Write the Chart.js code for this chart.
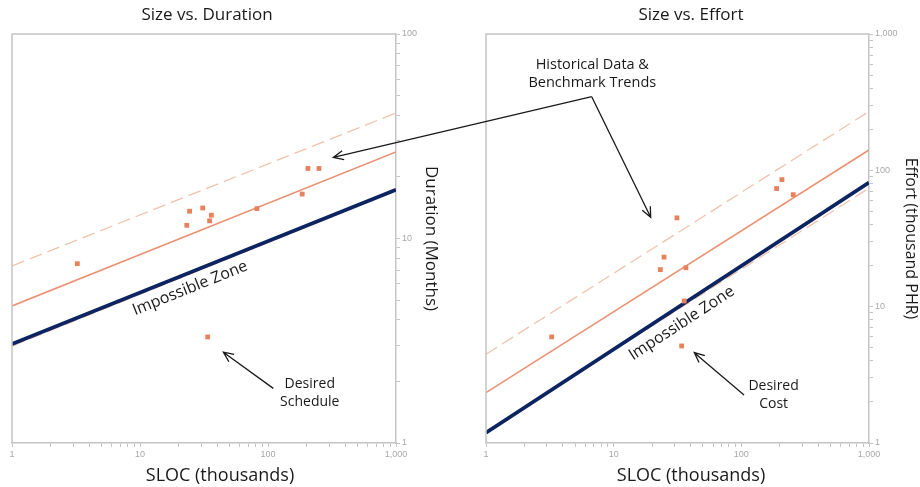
<!DOCTYPE html>
<html>
<head>
<meta charset="utf-8">
<script src="https://cdn.jsdelivr.net/npm/chart.js@4.4.1/dist/chart.umd.min.js"></script>
<style>
  body { margin: 0; background: #fff; }
  #wrap { position: relative; width: 920px; height: 487px; }
  #wrap canvas { position: absolute; top: 0; }
  #durationChart { left: 0; }
  #effortChart { left: 460px; }
  #overlay { left: 0; pointer-events: none; }
</style>
</head>
<body>
<div id="wrap">
  <canvas id="durationChart" width="460" height="487"></canvas>
  <canvas id="effortChart" width="460" height="487"></canvas>
  <canvas id="overlay" width="920" height="487"></canvas>
</div>
<script>
// log axis labels, only the decades get text
const decadeLabels = { 1: '1', 10: '10', 100: '100', 1000: '1,000' };
const minorSteps = [1, 2, 3, 4, 5, 6, 7, 8, 9];

// trend lines run across the whole size range
const trendSloc = [1, 1000];

// size vs. duration
const durSloc = [3.24, 23.2, 24.4, 30.9, 35.0, 36.1, 82, 185, 205, 250];
const durMonths = [7.53, 11.6, 13.6, 14.1, 12.2, 13.0, 14.0, 16.5, 22.0, 22.0];
const durDesired = [33.8, 3.3];
const durUpper = [7.34, 41.1];
const durTrend = [4.68, 26.5];
const durLower = [2.98, 17.1];
const durLimit = [3.05, 17.3];

// size vs. effort
const effSloc = [3.27, 23.2, 24.8, 31.3, 35.7, 36.8, 189, 208, 255];
const effPhr = [6.0, 18.7, 23.1, 44.8, 11.0, 19.3, 73.5, 85.5, 66.3];
const effDesired = [34.1, 5.15];
const effUpper = [4.48, 270];
const effTrend = [2.34, 141];
const effLower = [1.22, 74];
const effLimit = [1.19, 81.3];

const ORANGE = '#e8825c';
const TREND = '#ea9272';
const BAND = '#f3c2ab';
const NAVY = '#0c2462';
const AXIS = '#c4c4c4';
const INK = '#1a1a1a';

function pairs(xs, ys) {
  return xs.map((x, i) => ({ x: x, y: ys[i] }));
}

function logAxis(max, extra) {
  const marks = [];
  for (let p = 1; p < max; p *= 10) minorSteps.forEach(s => marks.push(s * p));
  marks.push(max);
  return Object.assign({
    type: 'logarithmic',
    min: 1,
    max: max,
    afterBuildTicks: scale => { scale.ticks = marks.map(v => ({ value: v })); },
    grid: { drawOnChartArea: false, drawTicks: true, tickLength: 4, color: AXIS },
    border: { color: AXIS, width: 1.5 },
    ticks: {
      autoSkip: false, maxRotation: 0, padding: 2, color: '#a8a8a8',
      font: { family: 'Liberation Sans', size: 9 },
      callback: v => decadeLabels[v] || ''
    }
  }, extra);
}

function arrow(ctx, x0, y0, x1, y1) {
  const a = Math.atan2(y1 - y0, x1 - x0), h = 11;
  ctx.beginPath();
  ctx.moveTo(x0, y0);
  ctx.lineTo(x1, y1);
  ctx.moveTo(x1 - h * Math.cos(a - 0.42), y1 - h * Math.sin(a - 0.42));
  ctx.lineTo(x1, y1);
  ctx.lineTo(x1 - h * Math.cos(a + 0.42), y1 - h * Math.sin(a + 0.42));
  ctx.stroke();
}

// frame, titles and the callouts inside each plot
const notesPlugin = {
  id: 'notes',
  afterDraw(chart, args, opts) {
    const { ctx, chartArea: a, scales: { x, y } } = chart;
    const px = v => x.getPixelForValue(v);
    const py = v => y.getPixelForValue(v);
    ctx.save();
    ctx.strokeStyle = AXIS;
    ctx.lineWidth = 1.5;
    ctx.beginPath();
    ctx.moveTo(a.left, a.bottom);
    ctx.lineTo(a.left, a.top);
    ctx.lineTo(a.right, a.top);
    ctx.stroke();

    ctx.fillStyle = INK;
    ctx.textAlign = 'center';
    ctx.textBaseline = 'middle';
    ctx.font = '17px "Open Sans"';
    ctx.fillText(opts.title, opts.titleX, 15);
    ctx.font = '18px "Open Sans"';
    ctx.fillText('SLOC (thousands)', opts.slocX, 476);

    // label set along the limit line
    const ang = Math.atan2(py(opts.limit[1]) - py(opts.limit[0]), px(trendSloc[1]) - px(trendSloc[0]));
    ctx.save();
    ctx.translate(px(opts.zone[0]), py(opts.zone[1]));
    ctx.rotate(ang);
    ctx.font = '16px "Open Sans"';
    ctx.fillText('Impossible Zone', 0, 0);
    ctx.restore();

    ctx.font = '14px "Open Sans"';
    opts.desiredText.forEach((t, i) => {
      ctx.fillText(t, px(opts.desiredAt[0]), py(opts.desiredAt[1 + i]));
    });
    ctx.strokeStyle = INK;
    ctx.lineWidth = 1.3;
    arrow(ctx, px(opts.desiredArrow[0]), py(opts.desiredArrow[1]), px(opts.desiredArrow[2]), py(opts.desiredArrow[3]));
    ctx.restore();
  }
};

function sizeChart(id, cfg) {
  const line = (ys, color, width, dash) => ({
    data: pairs(trendSloc, ys), showLine: true, borderColor: color, borderWidth: width,
    borderDash: dash || [], pointRadius: 0, fill: false
  });
  const dots = (pts) => ({
    data: pts, pointStyle: 'rect', pointRadius: 3.4, pointBorderWidth: 0,
    backgroundColor: ORANGE, borderColor: ORANGE
  });
  return new Chart(document.getElementById(id), {
    type: 'scatter',
    data: {
      datasets: [
        dots(cfg.points),
        dots([{ x: cfg.desired[0], y: cfg.desired[1] }]),
        line(cfg.limit, NAVY, 3.8),
        line(cfg.trend, TREND, 1.6),
        line(cfg.upper, BAND, 1.3, [13, 6]),
        line(cfg.lower, BAND, 1.3, [13, 6])
      ]
    },
    options: {
      responsive: false,
      animation: false,
      devicePixelRatio: 1,
      layout: { padding: { left: cfg.padLeft, top: 34, right: 0, bottom: 0 } },
      plugins: { legend: { display: false }, tooltip: { enabled: false }, notes: cfg.notes },
      scales: {
        x: logAxis(1000, { position: 'bottom', afterFit: s => { s.height = 44; } }),
        y: logAxis(cfg.yMax, {
          position: 'right',
          afterFit: s => { s.width = cfg.axisWidth; },
          title: {
            display: true, text: cfg.yTitle, color: INK,
            font: { family: 'Open Sans', size: cfg.yTitleSize }, padding: { top: cfg.yTitlePad, bottom: 0 }
          }
        })
      }
    },
    plugins: [notesPlugin]
  });
}

const durChart = sizeChart('durationChart', {
  points: pairs(durSloc, durMonths), desired: durDesired,
  limit: durLimit, trend: durTrend, upper: durUpper, lower: durLower,
  yMax: 100, padLeft: 12, axisWidth: 64,
  yTitle: 'Duration (Months)', yTitleSize: 17, yTitlePad: 19,
  notes: {
    title: 'Size vs. Duration', titleX: 207, slocX: 220, limit: durLimit,
    zone: [24.6, 5.71],
    desiredText: ['Desired', 'Schedule'], desiredAt: [212, 1.94, 1.59],
    desiredArrow: [110, 1.85, 44.8, 2.78]
  }
});

const effChart = sizeChart('effortChart', {
  points: pairs(effSloc, effPhr), desired: effDesired,
  limit: effLimit, trend: effTrend, upper: effUpper, lower: effLower,
  yMax: 1000, padLeft: 26, axisWidth: 51,
  yTitle: 'Effort (thousand PHR)', yTitleSize: 16, yTitlePad: 0,
  notes: {
    title: 'Size vs. Effort', titleX: 231, slocX: 231, limit: effLimit,
    zone: [34.1, 7.55],
    desiredText: ['Desired', 'Cost'], desiredAt: [179, 2.62, 1.94],
    desiredArrow: [105, 2.25, 42.8, 4.6]
  }
});

// shared callout pointing into both plots
const histAt = [6.8, 590, 440];
const histVertex = [6.73, 347];
const histEffortTip = [19.5, 45.3];
const histDurationTip = [324, 24.9];

(function drawCallout() {
  const ctx = document.getElementById('overlay').getContext('2d');
  const ex = v => 460 + effChart.scales.x.getPixelForValue(v);
  const ey = v => effChart.scales.y.getPixelForValue(v);
  const dx = v => durChart.scales.x.getPixelForValue(v);
  const dy = v => durChart.scales.y.getPixelForValue(v);
  ctx.fillStyle = INK;
  ctx.textAlign = 'center';
  ctx.textBaseline = 'middle';
  ctx.font = '14.5px "Open Sans"';
  ctx.fillText('Historical Data &', ex(histAt[0]), ey(histAt[1]));
  ctx.fillText('Benchmark Trends', ex(histAt[0]), ey(histAt[2]));
  ctx.strokeStyle = INK;
  ctx.lineWidth = 1.3;
  arrow(ctx, ex(histVertex[0]), ey(histVertex[1]), dx(histDurationTip[0]), dy(histDurationTip[1]));
  arrow(ctx, ex(histVertex[0]), ey(histVertex[1]), ex(histEffortTip[0]), ey(histEffortTip[1]));
})();
</script>
</body>
</html>
